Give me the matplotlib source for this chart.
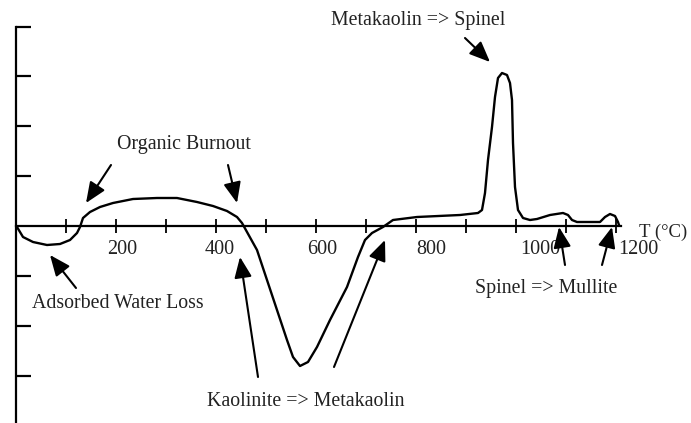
import matplotlib
matplotlib.use("Agg")
import matplotlib.pyplot as plt

plt.rcParams['font.family'] = ['Liberation Serif', 'DejaVu Serif']

# DTA curve: temperature (C) and signal (arbitrary units)
temp = [0, 2, 14, 34, 62, 88, 108, 122, 128, 134, 148, 168, 194, 234, 282,
        322, 362, 394, 422, 442, 452, 462, 482, 502, 522, 542, 554, 568, 584,
        602, 628, 662, 684, 698, 712, 734, 754, 802, 888, 924, 932, 938, 944,
        952, 958, 964, 972, 982, 988, 992, 994, 998, 1004, 1014, 1028, 1042,
        1068, 1094, 1104, 1112, 1122, 1168, 1178, 1188, 1198, 1204, 1206]
signal = [0, -0.02, -0.22, -0.32, -0.38, -0.36, -0.28, -0.14, -0.02, 0.16,
          0.28, 0.38, 0.46, 0.54, 0.56, 0.56, 0.48, 0.40, 0.30, 0.18, 0.06,
          -0.12, -0.48, -1.08, -1.68, -2.28, -2.62, -2.80, -2.72, -2.42,
          -1.88, -1.22, -0.62, -0.28, -0.14, -0.02, 0.12, 0.18, 0.22, 0.26,
          0.32, 0.66, 1.32, 1.98, 2.58, 2.96, 3.06, 3.02, 2.86, 2.52, 1.66,
          0.78, 0.32, 0.16, 0.12, 0.14, 0.22, 0.26, 0.22, 0.12, 0.08, 0.08,
          0.18, 0.24, 0.20, 0.08, 0.02]

tick_values = list(range(100, 1300, 100))
tick_labels = ['200', '400', '600', '800', '1000', '1200']
label_pos = [212, 408, 612, 830, 1048, 1244]   # where the labels sit
ytick_pos = [-3, -2, -1, 1, 2, 3, 3.98]

fig = plt.figure(figsize=(6.91, 4.23), dpi=100)
ax = fig.add_axes([16 / 691, 0, 675 / 691, 396 / 423])
ax.set_xlim(0, 1350)
ax.set_ylim(-3.94, 3.98)

ax.plot(temp, signal, color='black', lw=1.7, solid_joinstyle='round')

for s in ['top', 'right']:
    ax.spines[s].set_visible(False)
ax.spines['left'].set_linewidth(1.6)
ax.spines['bottom'].set_linewidth(1.6)
ax.spines['bottom'].set_position(('data', 0))
ax.spines['bottom'].set_bounds(0, 1210)

ax.set_xticks(tick_values, minor=True)
ax.set_xticks(label_pos, tick_labels)
ax.tick_params(axis='x', which='minor', direction='inout', length=10, width=1.3)
ax.tick_params(axis='x', which='major', length=0, pad=10, labelsize=14.5,
               labelcolor='#222222')
ax.set_yticks(ytick_pos, [])
ax.tick_params(axis='y', direction='in', length=11, width=1.6)

fs = 14.3
tc = '#222222'
ax.text(1246, -0.13, 'T (°C)', ha='left', va='center', fontsize=13.5, color=tc)
ax.text(336, 1.62, 'Organic Burnout', ha='center', va='center', fontsize=fs, color=tc)
ax.text(204, -1.54, 'Adsorbed Water Loss', ha='center', va='center', fontsize=fs, color=tc)
ax.text(580, -3.52, 'Kaolinite => Metakaolin', ha='center', va='center', fontsize=fs, color=tc)
ax.text(804, 4.1, 'Metakaolin => Spinel', ha='center', va='center', fontsize=fs, color=tc)
ax.text(1060, -1.24, 'Spinel => Mullite', ha='center', va='center', fontsize=fs, color=tc)

arrows = [((190, 1.22), (140, 0.46)),
          ((424, 1.22), (442, 0.46)),
          ((120, -1.24), (68, -0.58)),
          ((484, -3.02), (448, -0.62)),
          ((636, -2.82), (738, -0.28)),
          ((898, 3.76), (948, 3.28)),
          ((1098, -0.78), (1086, -0.02)),
          ((1172, -0.78), (1192, -0.02))]
for tail, tip in arrows:
    ax.annotate('', xy=tip, xytext=tail,
                arrowprops=dict(arrowstyle='-|>,head_length=0.9,head_width=0.38',
                                color='black', lw=1.5, mutation_scale=14,
                                shrinkA=0, shrinkB=0))

fig.savefig('out.png', dpi=100)
